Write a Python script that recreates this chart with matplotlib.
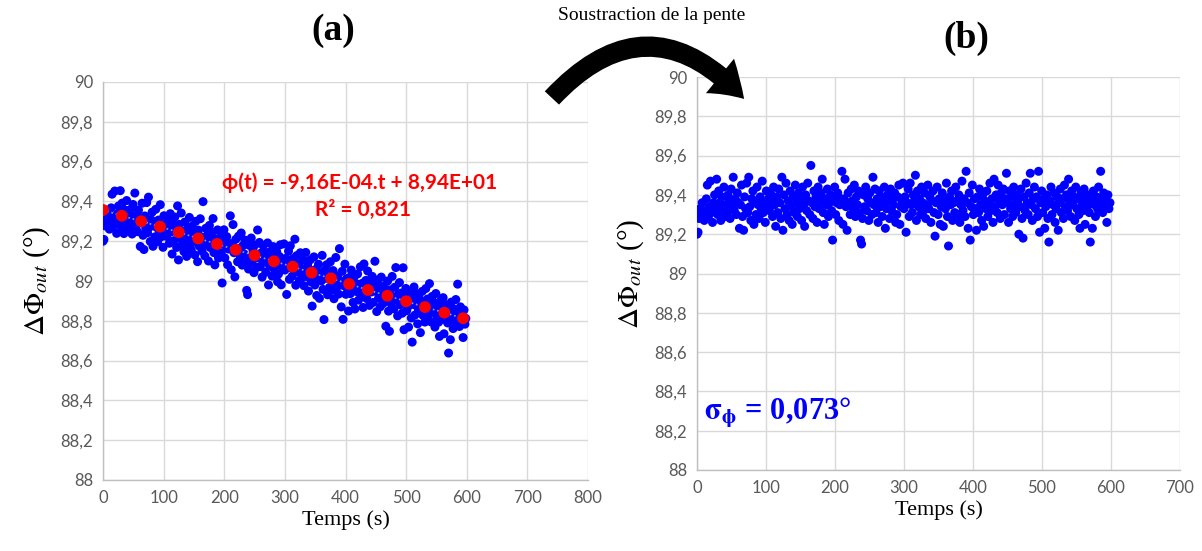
import numpy as np
import matplotlib
matplotlib.use("Agg")
import matplotlib.pyplot as plt
from matplotlib.patches import FancyArrowPatch

# ---------------- data ----------------
SAMPLE_STEP_S = 1.5          # acquisition interval (s)
SLOPE = -9.16e-4             # fitted slope (deg / s), from the chart label

# detrended phase (panel b), 400 samples
phase_detrended = [
    89.20, 89.21, 89.28, 89.33, 89.31, 89.36, 89.30, 89.27, 89.32, 89.38,
    89.45, 89.29, 89.34, 89.47, 89.31, 89.26, 89.36, 89.40, 89.33, 89.48,
    89.30, 89.42, 89.36, 89.27, 89.39, 89.33, 89.44, 89.29, 89.35, 89.31,
    89.40, 89.37, 89.28, 89.43, 89.34, 89.49, 89.32, 89.38, 89.30, 89.41,
    89.36, 89.23, 89.35, 89.45, 89.29, 89.22, 89.39, 89.33, 89.46, 89.31,
    89.49, 89.34, 89.27, 89.38, 89.42, 89.25, 89.36, 89.30, 89.44, 89.35,
    89.28, 89.39, 89.33, 89.47, 89.31, 89.36, 89.26, 89.42, 89.34, 89.38,
    89.32, 89.41, 89.37, 89.29, 89.44, 89.35, 89.24, 89.39, 89.31, 89.43,
    89.36, 89.28, 89.49, 89.22, 89.40, 89.33, 89.46, 89.30, 89.37, 89.27,
    89.42, 89.34, 89.25, 89.39, 89.31, 89.45, 89.36, 89.29, 89.41, 89.33,
    89.38, 89.27, 89.44, 89.35, 89.24, 89.40, 89.32, 89.46, 89.37, 89.30,
    89.55, 89.36, 89.28, 89.42, 89.34, 89.39, 89.26, 89.44, 89.33, 89.37,
    89.41, 89.48, 89.31, 89.25, 89.38, 89.35, 89.43, 89.29, 89.36, 89.40,
    89.32, 89.17, 89.39, 89.44, 89.30, 89.36, 89.41, 89.27, 89.35, 89.38,
    89.52, 89.25, 89.38, 89.48, 89.34, 89.22, 89.41, 89.36, 89.30, 89.43,
    89.37, 89.33, 89.45, 89.29, 89.39, 89.35, 89.42, 89.31, 89.17, 89.15,
    89.28, 89.40, 89.34, 89.44, 89.32, 89.38, 89.27, 89.41, 89.36, 89.30,
    89.49, 89.35, 89.43, 89.31, 89.38, 89.26, 89.42, 89.34, 89.39, 89.29,
    89.36, 89.44, 89.23, 89.33, 89.40, 89.37, 89.28, 89.43, 89.32, 89.38,
    89.35, 89.41, 89.26, 89.30, 89.39, 89.45, 89.25, 89.34, 89.37, 89.46,
    89.33, 89.39, 89.21, 89.36, 89.43, 89.29, 89.46, 89.35, 89.31, 89.40,
    89.37, 89.50, 89.27, 89.42, 89.34, 89.38, 89.30, 89.44, 89.36, 89.32,
    89.41, 89.28, 89.35, 89.45, 89.33, 89.39, 89.26, 89.37, 89.42, 89.31,
    89.19, 89.36, 89.44, 89.30, 89.38, 89.25, 89.34, 89.41, 89.24, 89.37,
    89.33, 89.46, 89.29, 89.14, 89.39, 89.35, 89.42, 89.27, 89.36, 89.31,
    89.44, 89.37, 89.30, 89.40, 89.26, 89.35, 89.47, 89.32, 89.38, 89.29,
    89.52, 89.36, 89.23, 89.41, 89.17, 89.34, 89.45, 89.30, 89.38, 89.33,
    89.22, 89.39, 89.31, 89.43, 89.35, 89.27, 89.40, 89.24, 89.37, 89.33,
    89.42, 89.29, 89.36, 89.46, 89.32, 89.38, 89.26, 89.48, 89.34, 89.40,
    89.31, 89.45, 89.37, 89.28, 89.41, 89.35, 89.43, 89.30, 89.38, 89.51,
    89.36, 89.26, 89.42, 89.33, 89.39, 89.29, 89.44, 89.35, 89.31, 89.40,
    89.37, 89.20, 89.34, 89.43, 89.28, 89.18, 89.39, 89.32, 89.46, 89.36,
    89.30, 89.41, 89.51, 89.35, 89.27, 89.38, 89.44, 89.33, 89.39, 89.29,
    89.52, 89.21, 89.36, 89.42, 89.31, 89.38, 89.23, 89.34, 89.40, 89.28,
    89.16, 89.37, 89.44, 89.30, 89.35, 89.41, 89.26, 89.33, 89.39, 89.22,
    89.36, 89.43, 89.31, 89.38, 89.28, 89.45, 89.34, 89.40, 89.32, 89.48,
    89.37, 89.29, 89.42, 89.35, 89.39, 89.27, 89.44, 89.33, 89.38, 89.30,
    89.23, 89.41, 89.36, 89.32, 89.43, 89.25, 89.38, 89.34, 89.40, 89.31,
    89.16, 89.37, 89.23, 89.42, 89.35, 89.29, 89.39, 89.33, 89.44, 89.36,
    89.52, 89.38, 89.31, 89.41, 89.35, 89.37, 89.26, 89.40, 89.33, 89.36,
]

# red trend markers in panel (a)
trend_t = [0, 31, 63, 94, 125, 157, 188, 219, 250, 282,
           313, 344, 376, 406, 437, 469, 500, 531, 563, 594]
trend_phase = [89.357, 89.328, 89.300, 89.273, 89.245, 89.214, 89.186, 89.157, 89.129, 89.099,
               89.072, 89.042, 89.013, 88.985, 88.955, 88.926, 88.898, 88.869, 88.841, 88.813]

x_ticks_a = [0, 100, 200, 300, 400, 500, 600, 700, 800]
x_ticks_b = [0, 100, 200, 300, 400, 500, 600, 700]
y_ticks = [88.0, 88.2, 88.4, 88.6, 88.8, 89.0, 89.2, 89.4, 89.6, 89.8, 90.0]

t = np.arange(len(phase_detrended)) * SAMPLE_STEP_S
phase_b = np.array(phase_detrended)
phase_a = phase_b + SLOPE * t   # raw phase = detrended + slope

# ---------------- styling ----------------
plt.rcParams['mathtext.fontset'] = 'stix'
SANS = ['Lato', 'DejaVu Sans']
SERIF = ['Liberation Serif', 'DejaVu Serif']
GRID = '#d9d9d9'
TICKC = '#595959'
BLUE = '#0000ff'
RED = '#ff0000'

fig = plt.figure(figsize=(12.02, 5.51), dpi=100)
W, H = 1202, 551


def make_ax(x0, x1, y_top, y_bot):
    return fig.add_axes([x0 / W, 1 - y_bot / H, (x1 - x0) / W, (y_bot - y_top) / H])


ax_a = make_ax(103, 588, 82, 480)
ax_b = make_ax(697, 1180, 77, 470)


def fmt(v):
    s = f"{v:.1f}"
    if s.endswith('.0'):
        s = s[:-2]
    return s.replace('.', ',')


for ax, xt in ((ax_a, x_ticks_a), (ax_b, x_ticks_b)):
    ax.set_xlim(xt[0], xt[-1])
    ax.set_ylim(y_ticks[0], y_ticks[-1])
    ax.set_xticks(xt)
    ax.set_yticks(y_ticks)
    ax.set_xticklabels([str(v) for v in xt], family=SANS, fontsize=12, color=TICKC)
    ax.set_yticklabels([fmt(v) for v in y_ticks], family=SANS, fontsize=12, color=TICKC)
    ax.tick_params(length=0, pad=7)
    ax.grid(True, color=GRID, linewidth=1.0)
    ax.set_axisbelow(True)
    for side in ('top', 'right'):
        ax.spines[side].set_visible(False)
    for side in ('left', 'bottom'):
        ax.spines[side].set_color('#bfbfbf')
        ax.spines[side].set_linewidth(1.0)
    ax.set_xlabel('Temps (s)', family=SERIF, fontsize=16, color='black', labelpad=3)
    ax.set_ylabel(r'$\Delta\Phi_{out}$ (°)', family=SERIF, fontsize=21, color='black', labelpad=6)

# panel (a)
ax_a.scatter(t, phase_a, s=42, color=BLUE, edgecolors='none', zorder=3)
ax_a.plot(trend_t, trend_phase, linestyle=':', color='#7fa7d9', linewidth=1.2, zorder=4)
ax_a.scatter(trend_t, trend_phase, s=72, color=RED, edgecolors='none', zorder=5)
ax_a.text(424, 89.495, 'ϕ(t) = -9,16E-04.t + 8,94E+01', family=SANS, fontsize=15,
          fontweight='bold', color=RED, ha='center', va='center', zorder=6)
ax_a.text(429, 89.355, 'R² = 0,821', family=SANS, fontsize=15,
          fontweight='bold', color=RED, ha='center', va='center', zorder=6)

# panel (b)
ax_b.scatter(t, phase_b, s=42, color=BLUE, edgecolors='none', zorder=3)
ax_b.text(10, 88.29, r'$\mathbf{\sigma_{\phi}}$ = 0,073°', family=SERIF, fontsize=22,
          fontweight='bold', color=BLUE, ha='left', va='center', zorder=6)

# titles
fig.text(333 / W, 1 - 30 / H, '(a)', family=SERIF, fontsize=27, fontweight='bold',
         ha='center', va='center')
fig.text(966 / W, 1 - 38 / H, '(b)', family=SERIF, fontsize=27, fontweight='bold',
         ha='center', va='center')
fig.text(652 / W, 1 - 15 / H, 'Soustraction de la pente', family=SERIF, fontsize=14,
         ha='center', va='center')

# curved arrow
arrow = FancyArrowPatch((550 / W, 1 - 100 / H), (746 / W, 1 - 101 / H),
                        transform=fig.transFigure,
                        connectionstyle='arc3,rad=-0.55',
                        arrowstyle='simple,head_length=1.2,head_width=1.6,tail_width=0.7',
                        mutation_scale=20, color='black', linewidth=0, zorder=10)
fig.patches.append(arrow)

fig.savefig('out.png', dpi=100)
